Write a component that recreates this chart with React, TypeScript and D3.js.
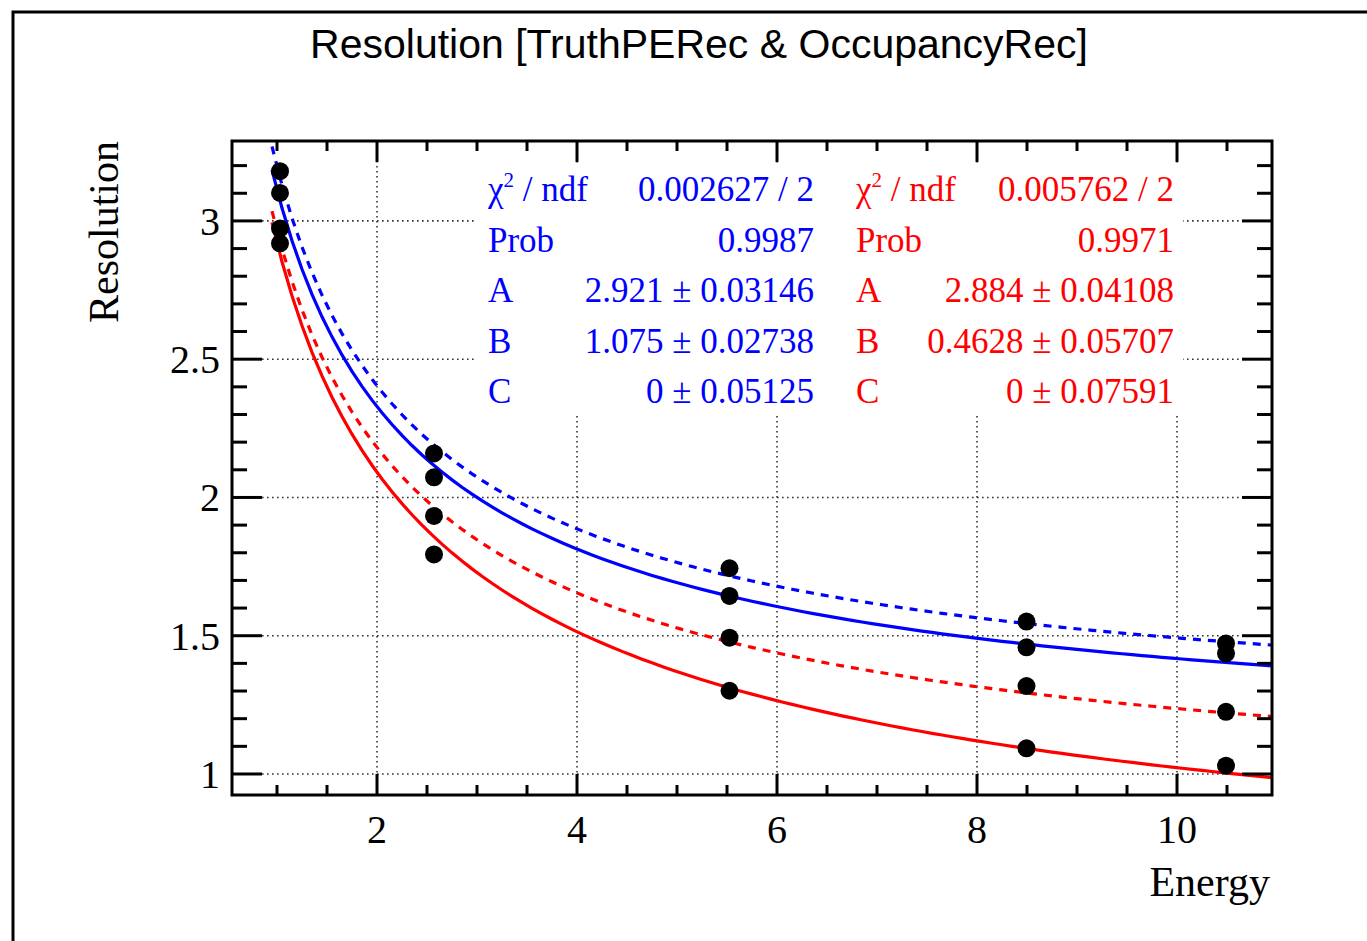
import React from "react";
import * as d3 from "d3";

// ---- data ----
const energies = [1.03, 2.57, 5.525, 8.495, 10.49];
const blueUpperPts = [3.18, 2.159, 1.744, 1.551, 1.472];
const blueLowerPts = [3.101, 2.073, 1.644, 1.458, 1.436];
const redUpperPts = [2.973, 1.933, 1.493, 1.318, 1.225];
const redLowerPts = [2.919, 1.794, 1.301, 1.093, 1.03];
const allSeries = [blueUpperPts, blueLowerPts, redUpperPts, redLowerPts];

// fit parameters [A, B, C] for resolution = sqrt(A^2/E + B^2 + C^2)
const blueFit = [2.921, 1.075, 0];
const redFit = [2.884, 0.4628, 0];
const blueDashedFit = [2.98, 1.157, 0];
const redDashedFit = [2.84, 0.85, 0];

const fitRange = [0.95, 10.95];

const xMajorTicks = [2, 4, 6, 8, 10];
const yMajorTicks = [1, 1.5, 2, 2.5, 3];

const blueStats = [
  ["chi", "0.002627 / 2"],
  ["Prob", "0.9987"],
  ["A", "2.921 \u00b1 0.03146"],
  ["B", "1.075 \u00b1 0.02738"],
  ["C", "0 \u00b1 0.05125"],
];
const redStats = [
  ["chi", "0.005762 / 2"],
  ["Prob", "0.9971"],
  ["A", "2.884 \u00b1 0.04108"],
  ["B", "0.4628 \u00b1 0.05707"],
  ["C", "0 \u00b1 0.07591"],
];

const W = 1367;
const H = 941;
const L = 232, R = 1272, T = 141, B = 795;

const x = d3.scaleLinear().domain([0.55, 10.95]).range([L, R]);
const y = d3.scaleLinear().domain([0.924, 3.289]).range([B, T]);

const serif = "'Liberation Serif', 'Times New Roman', serif";
const sans = "'Liberation Sans', Arial, Helvetica, sans-serif";

function fitPath(p: number[]) {
  const [A, Bp, C] = p;
  const n = 100;
  const pts: [number, number][] = [];
  for (let i = 0; i <= n; i++) {
    const e = fitRange[0] + ((fitRange[1] - fitRange[0]) * i) / n;
    pts.push([e, Math.sqrt((A * A) / e + Bp * Bp + C * C)]);
  }
  return d3.line<[number, number]>().x((d) => x(d[0])).y((d) => y(d[1]))(pts) || "";
}

function StatsBox({ rows, color, lx, rx }: { rows: string[][]; color: string; lx: number; rx: number }) {
  const baselines = [201, 251.5, 302, 352.7, 403];
  return (
    <g fill={color} fontFamily={serif} fontSize={35}>
      {rows.map((r, i) => (
        <g key={i}>
          {r[0] === "chi" ? (
            <text x={lx} y={baselines[i]}>
              {"\u03c7"}
              <tspan dy={-14} fontSize={21}>2</tspan>
              <tspan dy={14}>{" / ndf"}</tspan>
            </text>
          ) : (
            <text x={lx} y={baselines[i]}>{r[0]}</text>
          )}
          <text x={rx} y={baselines[i]} textAnchor="end">{r[1]}</text>
        </g>
      ))}
    </g>
  );
}

export default function App() {
  const xMinor = d3.range(1, 11, 0.5).filter((v) => !xMajorTicks.includes(v));
  const yMinor = d3.range(10, 33, 1).map((v) => v / 10).filter((v) => !yMajorTicks.some((m) => Math.abs(m - v) < 1e-9));
  const gridStyle = { stroke: "#333", strokeWidth: 1.6, strokeDasharray: "1.6,3.4" };

  return (
    <svg width={W} height={H} style={{ position: "absolute", left: 0, top: 0, display: "block", background: "#fff" }}>
      <defs>
        <clipPath id="frameClip">
          <rect x={L} y={T} width={R - L} height={B - T} />
        </clipPath>
      </defs>
      <rect x={0} y={0} width={W} height={H} fill="#fff" />
      {/* outer canvas border */}
      <rect x={13} y={12} width={W + 50} height={H + 50} fill="none" stroke="#000" strokeWidth={3} />

      {/* title */}
      <text x={699} y={58} textAnchor="middle" fontFamily={sans} fontSize={41} fill="#000">
        Resolution [TruthPERec &amp; OccupancyRec]
      </text>

      {/* grid */}
      <g>
        {xMajorTicks.map((v) => (
          <line key={"gx" + v} x1={x(v)} x2={x(v)} y1={T} y2={B} {...gridStyle} />
        ))}
        {yMajorTicks.map((v) => (
          <line key={"gy" + v} x1={L} x2={R} y1={y(v)} y2={y(v)} {...gridStyle} />
        ))}
      </g>

      {/* stats boxes */}
      <rect x={474} y={163} width={355} height={253} fill="#fff" />
      <rect x={829} y={163} width={354} height={253} fill="#fff" />
      <StatsBox rows={blueStats} color="#0000ff" lx={488} rx={814} />
      <StatsBox rows={redStats} color="#ff0000" lx={856} rx={1174} />

      {/* fit curves */}
      <g clipPath="url(#frameClip)" fill="none" strokeWidth={3.2}>
        <path d={fitPath(blueDashedFit)} stroke="#0000ff" strokeDasharray="8,7" />
        <path d={fitPath(redDashedFit)} stroke="#ff0000" strokeDasharray="8,7" />
        <path d={fitPath(blueFit)} stroke="#0000ff" />
        <path d={fitPath(redFit)} stroke="#ff0000" />
      </g>

      {/* data points */}
      <g fill="#000">
        {allSeries.map((s, si) =>
          s.map((v, i) => <circle key={si + "-" + i} cx={x(energies[i])} cy={y(v)} r={9} />)
        )}
      </g>

      {/* frame and ticks */}
      <g stroke="#000" strokeWidth={3}>
        {xMajorTicks.map((v) => (
          <g key={"xt" + v}>
            <line x1={x(v)} x2={x(v)} y1={B} y2={B - 21} />
            <line x1={x(v)} x2={x(v)} y1={T} y2={T + 21} />
          </g>
        ))}
        {xMinor.map((v) => (
          <g key={"xm" + v}>
            <line x1={x(v)} x2={x(v)} y1={B} y2={B - 10} />
            <line x1={x(v)} x2={x(v)} y1={T} y2={T + 10} />
          </g>
        ))}
        {yMajorTicks.map((v) => (
          <g key={"yt" + v}>
            <line x1={L} x2={L + 30} y1={y(v)} y2={y(v)} />
            <line x1={R} x2={R - 30} y1={y(v)} y2={y(v)} />
          </g>
        ))}
        {yMinor.map((v) => (
          <g key={"ym" + v}>
            <line x1={L} x2={L + 15} y1={y(v)} y2={y(v)} />
            <line x1={R} x2={R - 15} y1={y(v)} y2={y(v)} />
          </g>
        ))}
        <rect x={L} y={T} width={R - L} height={B - T} fill="none" />
      </g>

      {/* tick labels */}
      <g fontFamily={serif} fontSize={40} fill="#000">
        {xMajorTicks.map((v) => (
          <text key={"xl" + v} x={x(v)} y={843} textAnchor="middle">{v}</text>
        ))}
        {yMajorTicks.map((v) => (
          <text key={"yl" + v} x={220} y={y(v) + 14} textAnchor="end">{v}</text>
        ))}
      </g>

      {/* axis titles */}
      <text x={1270} y={896} textAnchor="end" fontFamily={serif} fontSize={42} fill="#000">Energy</text>
      <text transform={`translate(118,141) rotate(-90)`} textAnchor="end" fontFamily={serif} fontSize={42} fill="#000">Resolution</text>
    </svg>
  );
}
